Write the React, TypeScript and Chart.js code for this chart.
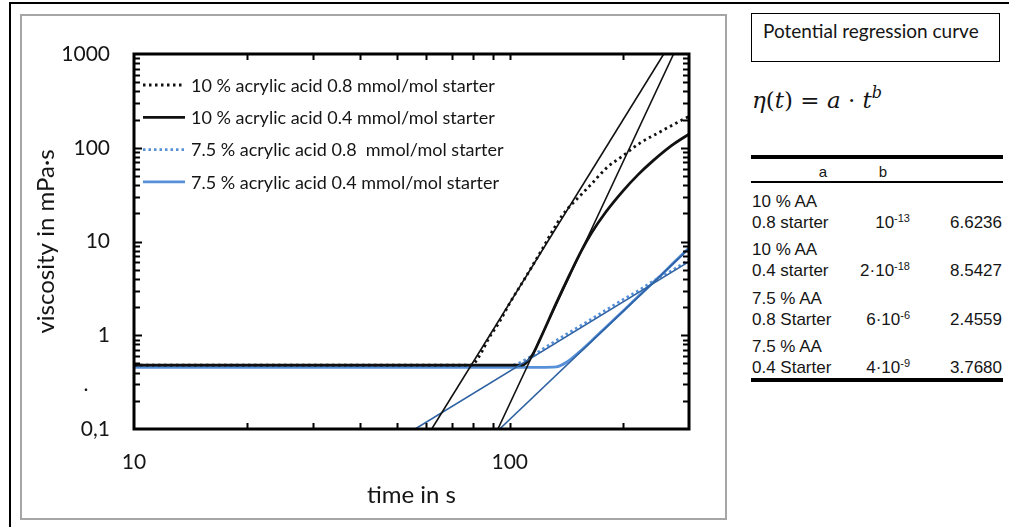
import React, { useEffect, useRef } from "react";
import { Chart, registerables } from "chart.js";

Chart.register(...registerables);

const FONT = "Lato, 'Open Sans', sans-serif";
const TABLE_FONT = "'Liberation Sans', Arial, sans-serif";

// ---------- axes ----------
const xMin = 10;
const xMax = 300;
const yMin = 0.1;
const yMax = 1000;
const xLabelValues = [10, 100];
const xTickLabels = ["10", "100"];
const yLabelValues = [0.1, 1, 10, 100, 1000];
const yTickLabels = ["0,1", "1", "10", "100", "1000"];
const xTickMarks = [20, 30, 40, 50, 60, 70, 80, 90, 100, 200];
const yTickMarks = [
  0.2, 0.3, 0.4, 0.5, 0.6, 0.7, 0.8, 0.9, 1, 2, 3, 4, 5, 6, 7, 8, 9, 10, 20, 30, 40, 50, 60, 70, 80, 90,
  100, 200, 300, 400, 500, 600, 700, 800, 900,
];
const yStrayLabelValue = 0.27;
const yStrayLabel = ".";

// ---------- series ----------
const seriesLabels = [
  "10 % acrylic acid 0.8 mmol/mol starter",
  "10 % acrylic acid 0.4 mmol/mol starter",
  "7.5 % acrylic acid 0.8  mmol/mol starter",
  "7.5 % acrylic acid 0.4 mmol/mol starter",
];

const t10_08 = [10, 40, 79, 83, 88, 94, 100, 110, 120, 138, 153, 165, 181, 200, 222, 250, 275, 300];
const eta10_08 = [0.48, 0.48, 0.48, 0.6, 0.93, 1.4, 2.2, 4.1, 7.4, 19, 30, 41, 61, 82, 112, 146, 180, 216];

const t10_04 = [10, 40, 80, 108, 115, 120, 133, 145, 155, 165, 180, 200, 220, 240, 270, 300];
const eta10_04 = [0.48, 0.48, 0.48, 0.48, 0.62, 0.88, 2.2, 4.6, 7.9, 12.3, 20.5, 34.5, 52, 72, 106, 140];

const t75_08 = [10, 40, 80, 98, 105, 115, 128, 140, 160, 180, 200, 220, 240, 270, 300];
const eta75_08 = [0.47, 0.47, 0.47, 0.47, 0.5, 0.61, 0.8, 1.0, 1.38, 1.85, 2.4, 3.0, 3.75, 4.9, 6.4];

const t75_04 = [10, 40, 80, 120, 133, 142, 153, 165, 180, 200, 220, 250, 275, 300];
const eta75_04 = [0.455, 0.455, 0.455, 0.455, 0.46, 0.52, 0.66, 0.87, 1.21, 1.8, 2.6, 4.2, 6.1, 8.5];

// regression lines (end points)
const fit10_08_t = [62, 257];
const fit10_08_eta = [0.1, 1000];
const fit10_04_t = [93, 273];
const fit10_04_eta = [0.1, 1000];
const fit75_08_t = [56, 300];
const fit75_08_eta = [0.1, 6.1];
const fit75_04_t = [94, 300];
const fit75_04_eta = [0.1, 8.4];

// ---------- table ----------
const tableTitle = "Potential regression curve";
const tableHeader = ["a", "b"];
const tableGroups = ["10 % AA", "10 % AA", "7.5 % AA", "7.5 % AA"];
const tableStarters = ["0.8 starter", "0.4 starter", "0.8 Starter", "0.4 Starter"];
const tableAMantissa = ["", "2·", "6·", "4·"];
const tableAExponent = ["-13", "-18", "-6", "-9"];
const tableB = ["6.6236", "8.5427", "2.4559", "3.7680"];

const BLACK = "#111111";
const DATA_BLUE = "#5590D8";
const FIT_BLUE = "#2F62A3";
const TEXT = "#151515";

const pts = (ts: number[], vs: number[]) => ts.map((t, i) => ({ x: t, y: vs[i] }));

const legendOrder = [4, 5, 6, 7];

const chartDecor = {
  id: "chartDecor",
  afterDatasetsDraw(chart: any) {
    const { ctx, chartArea, scales } = chart;
    const { left, right, top, bottom } = chartArea;
    const x = scales.x;
    const y = scales.y;
    ctx.save();
    ctx.strokeStyle = "#000";
    ctx.lineWidth = 2;
    ctx.setLineDash([]);
    xTickMarks.forEach((v) => {
      const px = Math.round(x.getPixelForValue(v)) + 0.5;
      ctx.beginPath();
      ctx.moveTo(px, bottom);
      ctx.lineTo(px, bottom - 6);
      ctx.moveTo(px, top);
      ctx.lineTo(px, top + 6);
      ctx.stroke();
    });
    yTickMarks.forEach((v) => {
      const py = Math.round(y.getPixelForValue(v)) + 0.5;
      const len = [1, 10, 100].includes(v) ? 8 : 6;
      ctx.beginPath();
      ctx.moveTo(left, py);
      ctx.lineTo(left + len, py);
      ctx.moveTo(right, py);
      ctx.lineTo(right - len, py);
      ctx.stroke();
    });
    ctx.lineWidth = 3;
    ctx.strokeRect(left, top, right - left, bottom - top);

    // stray tick label
    ctx.fillStyle = TEXT;
    ctx.font = `21px ${FONT}`;
    ctx.textAlign = "center";
    ctx.textBaseline = "alphabetic";
    ctx.fillText(yStrayLabel, left - 48, y.getPixelForValue(yStrayLabelValue) + 2);

    // legend inside chart area
    ctx.font = `18px ${FONT}`;
    ctx.textAlign = "left";
    ctx.textBaseline = "middle";
    legendOrder.forEach((di, i) => {
      const ds = chart.data.datasets[di];
      const yy = top + 31 + i * 32.3;
      ctx.strokeStyle = ds.borderColor;
      ctx.lineWidth = ds.borderWidth;
      ctx.setLineDash(ds.borderDash || []);
      ctx.beginPath();
      ctx.moveTo(left + 9, yy);
      ctx.lineTo(left + 51, yy);
      ctx.stroke();
      ctx.setLineDash([]);
      ctx.fillStyle = TEXT;
      ctx.fillText(ds.label, left + 57, yy + 1);
    });
    ctx.restore();
  },
};

function ViscosityChart() {
  const ref = useRef<HTMLCanvasElement>(null);
  useEffect(() => {
    if (!ref.current) return;
    const fitStyle = (color: string) => ({
      borderColor: color,
      borderWidth: 1.6,
      pointRadius: 0,
      showLine: true,
      fill: false,
      tension: 0,
    });
    const dataStyle = (color: string, dash: number[], width: number) => ({
      borderColor: color,
      borderWidth: width,
      borderDash: dash,
      pointRadius: 0,
      showLine: true,
      fill: false,
      cubicInterpolationMode: "monotone" as const,
    });
    const chart = new Chart(ref.current, {
      type: "scatter",
      data: {
        datasets: [
          { label: "fit 10 % 0.8", data: pts(fit10_08_t, fit10_08_eta), ...fitStyle(BLACK) },
          { label: "fit 10 % 0.4", data: pts(fit10_04_t, fit10_04_eta), ...fitStyle(BLACK) },
          { label: "fit 7.5 % 0.8", data: pts(fit75_08_t, fit75_08_eta), ...fitStyle(FIT_BLUE) },
          { label: "fit 7.5 % 0.4", data: pts(fit75_04_t, fit75_04_eta), ...fitStyle(FIT_BLUE) },
          { label: seriesLabels[0], data: pts(t10_08, eta10_08), ...dataStyle(BLACK, [2.5, 3.5], 2.8) },
          { label: seriesLabels[1], data: pts(t10_04, eta10_04), ...dataStyle(BLACK, [], 2.8) },
          { label: seriesLabels[2], data: pts(t75_08, eta75_08), ...dataStyle(DATA_BLUE, [2.5, 3], 2.6) },
          { label: seriesLabels[3], data: pts(t75_04, eta75_04), ...dataStyle(DATA_BLUE, [], 2.8) },
        ],
      },
      options: {
        animation: false,
        responsive: false,
        maintainAspectRatio: false,
        layout: { padding: { left: 20, top: 54, right: 51, bottom: 8 } },
        plugins: { legend: { display: false }, tooltip: { enabled: false } },
        scales: {
          x: {
            type: "logarithmic",
            min: xMin,
            max: xMax,
            grid: { display: false, drawTicks: false },
            border: { display: false },
            afterBuildTicks: (s: any) => {
              s.ticks = xLabelValues.map((v) => ({ value: v }));
            },
            afterFit: (s: any) => {
              s.height = 90;
            },
            ticks: {
              autoSkip: false,
              maxRotation: 0,
              padding: 21,
              color: TEXT,
              font: { family: FONT, size: 21 },
              callback: (_v: any, i: number) => xTickLabels[i],
            },
            title: {
              display: true,
              text: "time in s",
              color: TEXT,
              font: { family: FONT, size: 24 },
              padding: { top: 0, bottom: 9 },
            },
          },
          y: {
            type: "logarithmic",
            min: yMin,
            max: yMax,
            grid: { display: false, drawTicks: false },
            border: { display: false },
            afterBuildTicks: (s: any) => {
              s.ticks = yLabelValues.map((v) => ({ value: v }));
            },
            afterFit: (s: any) => {
              s.width = 114;
            },
            ticks: {
              autoSkip: false,
              padding: 24,
              color: TEXT,
              font: { family: FONT, size: 21 },
              callback: (_v: any, i: number) => yTickLabels[i],
            },
            title: {
              display: true,
              text: "viscosity in mPa·s",
              color: TEXT,
              font: { family: FONT, size: 24 },
              padding: { top: 12, bottom: 0 },
            },
          },
        },
      },
      plugins: [chartDecor],
    } as any);
    return () => chart.destroy();
  }, []);
  return (
    <canvas
      ref={ref}
      width={740}
      height={527}
      style={{ position: "absolute", left: 0, top: 0, width: 740, height: 527 }}
    />
  );
}

export default function App() {
  const groupTop = (i: number) => 191 + i * 48.4;
  return (
    <div
      style={{
        position: "absolute",
        left: 0,
        top: 0,
        width: 1009,
        height: 527,
        overflow: "hidden",
        background: "#fff",
        color: TEXT,
      }}
    >
      {/* outer page frame */}
      <div
        style={{
          position: "absolute",
          left: 9,
          top: 2,
          width: 1000,
          height: 525,
          borderTop: "2px solid #000",
          borderLeft: "2px solid #000",
          boxSizing: "border-box",
        }}
      />
      {/* chart frame */}
      <div
        style={{
          position: "absolute",
          left: 20,
          top: 14,
          width: 707,
          height: 506,
          border: "2px solid #a6a6a6",
          boxSizing: "border-box",
        }}
      />
      <ViscosityChart />

      {/* right panel */}
      <div
        style={{
          position: "absolute",
          left: 751,
          top: 13,
          width: 249,
          height: 49,
          border: "1.5px solid #000",
          boxSizing: "border-box",
        }}
      />
      <div
        style={{
          position: "absolute",
          left: 763,
          top: 19,
          fontFamily: FONT,
          fontSize: 19,
          lineHeight: "24px",
          whiteSpace: "pre",
        }}
      >
        {tableTitle}
      </div>
      <div
        style={{
          position: "absolute",
          left: 752,
          top: 84,
          fontFamily: "'DejaVu Serif', 'Liberation Serif', serif",
          fontSize: 23,
          lineHeight: "32px",
          whiteSpace: "pre",
        }}
      >
        <i>η</i>(<i>t</i>) = <i>a</i> · <i>t</i>
        <sup style={{ fontSize: 16, verticalAlign: "10px", lineHeight: 0 }}>
          <i>b</i>
        </sup>
      </div>
      <div style={{ position: "absolute", left: 751, top: 155, width: 252, height: 4, background: "#000" }} />
      <div
        style={{
          position: "absolute",
          left: 810,
          top: 163,
          width: 26,
          textAlign: "center",
          fontFamily: TABLE_FONT,
          fontSize: 15,
          lineHeight: "18px",
        }}
      >
        {tableHeader[0]}
      </div>
      <div
        style={{
          position: "absolute",
          left: 870,
          top: 163,
          width: 26,
          textAlign: "center",
          fontFamily: TABLE_FONT,
          fontSize: 15,
          lineHeight: "18px",
        }}
      >
        {tableHeader[1]}
      </div>
      <div style={{ position: "absolute", left: 751, top: 181, width: 252, height: 1.5, background: "#000" }} />
      {tableGroups.map((g, i) => (
        <React.Fragment key={i}>
          <div
            style={{
              position: "absolute",
              left: 752,
              top: groupTop(i),
              fontFamily: TABLE_FONT,
              fontSize: 17,
              lineHeight: "21px",
              whiteSpace: "pre",
            }}
          >
            {g}
          </div>
          <div
            style={{
              position: "absolute",
              left: 752,
              top: groupTop(i) + 21,
              fontFamily: TABLE_FONT,
              fontSize: 17,
              lineHeight: "21px",
              whiteSpace: "pre",
            }}
          >
            {tableStarters[i]}
          </div>
          <div
            style={{
              position: "absolute",
              left: 830,
              top: groupTop(i) + 21,
              width: 80,
              textAlign: "right",
              fontFamily: TABLE_FONT,
              fontSize: 17,
              lineHeight: "21px",
              whiteSpace: "pre",
            }}
          >
            {tableAMantissa[i]}10
            <sup style={{ fontSize: 11, verticalAlign: "6px", lineHeight: 0 }}>{tableAExponent[i]}</sup>
          </div>
          <div
            style={{
              position: "absolute",
              left: 920,
              top: groupTop(i) + 21,
              width: 82,
              textAlign: "right",
              fontFamily: TABLE_FONT,
              fontSize: 17,
              lineHeight: "21px",
              whiteSpace: "pre",
            }}
          >
            {tableB[i]}
          </div>
        </React.Fragment>
      ))}
      <div style={{ position: "absolute", left: 751, top: 378, width: 252, height: 4, background: "#000" }} />
    </div>
  );
}
